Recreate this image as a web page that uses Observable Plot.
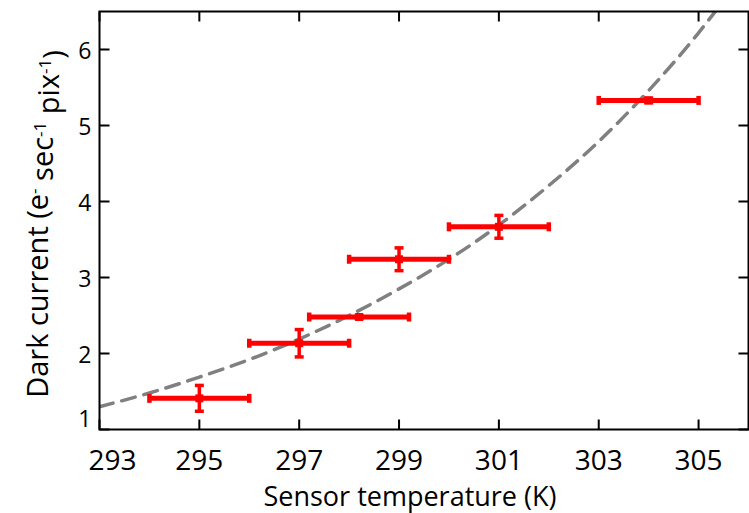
<!DOCTYPE html>
<html>
<head>
<meta charset="utf-8">
<script src="https://cdn.jsdelivr.net/npm/d3@7"></script>
<script src="https://cdn.jsdelivr.net/npm/@observablehq/plot@0.6"></script>
<style>
  html, body { margin: 0; padding: 0; background: #fff; }
  svg { display: block; }
</style>
</head>
<body>
<div id="chart"></div>
<script>
// ---- data ----
const xTicks = [293, 295, 297, 299, 301, 303, 305];
const yTicks = [1, 2, 3, 4, 5, 6];

const temperature = [295, 297, 298.2, 299, 301, 304];
const darkCurrent = [1.41, 2.135, 2.48, 3.24, 3.667, 5.33];
const temperatureErr = [1, 1, 1, 1, 1, 1];
const currentErr = [0.17, 0.18, 0.02, 0.15, 0.15, 0.03];

// dashed fit curve
const fitTemperature = [293, 294, 295, 296, 297, 298, 299, 300, 301, 302, 303, 304, 305, 306];
const fitCurrent = [1.30, 1.48, 1.69, 1.92, 2.19, 2.50, 2.85, 3.24, 3.69, 4.21, 4.79, 5.46, 6.22, 7.08];

// ---- tables ----
const points = temperature.map((t, i) => ({
  t, dc: darkCurrent[i],
  tlo: t - temperatureErr[i], thi: t + temperatureErr[i],
  lo: darkCurrent[i] - currentErr[i], hi: darkCurrent[i] + currentErr[i]
}));
const fit = fitTemperature.map((t, i) => ({t, dc: fitCurrent[i]}));

// ---- custom symbols ----
const rectSymbol = (w, h) => ({
  draw(ctx) { ctx.rect(-w / 2, -h / 2, w, h); }
});
const tickSymbol = (dx, dy) => ({
  draw(ctx) { ctx.moveTo(0, 0); ctx.lineTo(dx, dy); }
});
const L = 10;
const red = "#ff0000";
const font = "'Open Sans', sans-serif";
const fmt = d => String(d);

const svg = Plot.plot({
  width: 749,
  height: 513,
  marginLeft: 99,
  marginRight: 1,
  marginTop: 11,
  marginBottom: 84,
  style: {fontFamily: font, background: "#fff"},
  x: {domain: [293, 306], label: null},
  y: {domain: [1, 6.5], label: null},
  marks: [
    Plot.line(fit, {x: "t", y: "dc", curve: "natural", stroke: "#808080", strokeWidth: 3.5, strokeDasharray: "14,9", clip: true}),
    // horizontal error bars
    Plot.link(points, {x1: "tlo", x2: "thi", y1: "dc", y2: "dc", stroke: red, strokeWidth: 5}),
    Plot.dot(points, {x: "tlo", y: "dc", symbol: rectSymbol(4.5, 9), fill: red, r: 3}),
    Plot.dot(points, {x: "thi", y: "dc", symbol: rectSymbol(4.5, 9), fill: red, r: 3}),
    // vertical error bars
    Plot.link(points, {x1: "t", x2: "t", y1: "lo", y2: "hi", stroke: red, strokeWidth: 3.5}),
    Plot.dot(points, {x: "t", y: "lo", symbol: rectSymbol(9, 3.5), fill: red, r: 3}),
    Plot.dot(points, {x: "t", y: "hi", symbol: rectSymbol(9, 3.5), fill: red, r: 3}),
    Plot.dot(points, {x: "t", y: "dc", symbol: rectSymbol(8, 8), fill: red, r: 3}),
    // inward ticks on all four sides
    Plot.dot(xTicks, {x: d => d, y: 1, symbol: tickSymbol(0, -L), stroke: "black", strokeWidth: 2, fill: "none", r: 3}),
    Plot.dot(xTicks, {x: d => d, y: 6.5, symbol: tickSymbol(0, L), stroke: "black", strokeWidth: 2, fill: "none", r: 3}),
    Plot.dot(yTicks, {x: 293, y: d => d, symbol: tickSymbol(L, 0), stroke: "black", strokeWidth: 2, fill: "none", r: 3}),
    Plot.dot(yTicks, {x: 306, y: d => d, symbol: tickSymbol(-L, 0), stroke: "black", strokeWidth: 2, fill: "none", r: 3}),
    Plot.frame({stroke: "black", strokeWidth: 2}),
    // tick labels (the corner labels are nudged apart, as in the reference)
    Plot.axisX(xTicks.slice(0, 1), {tickSize: 0, tickPadding: 21, fontSize: 28, fill: "black", label: null, dx: 13, tickFormat: fmt}),
    Plot.axisX(xTicks.slice(1), {tickSize: 0, tickPadding: 21, fontSize: 28, fill: "black", label: null, dx: 0, tickFormat: fmt}),
    Plot.axisY(yTicks.slice(0, 1), {tickSize: 0, tickPadding: 8, fontSize: 23, fill: "black", label: null, dy: -10, tickFormat: fmt}),
    Plot.axisY(yTicks.slice(1), {tickSize: 0, tickPadding: 8, fontSize: 23, fill: "black", label: null, dy: 2, tickFormat: fmt})
  ]
});

const sel = d3.select(svg);
sel.append("text")
  .attr("x", 410).attr("y", 506)
  .attr("text-anchor", "middle")
  .attr("font-size", 27)
  .attr("font-family", font)
  .attr("fill", "black")
  .text("Sensor temperature (K)");

const yt = sel.append("text")
  .attr("transform", "translate(48,224) rotate(-90)")
  .attr("text-anchor", "middle")
  .attr("font-size", 29)
  .attr("font-family", font)
  .attr("fill", "black");
yt.append("tspan").text("Dark current (e");
yt.append("tspan").attr("dy", "-0.45em").attr("font-size", 17).text("-");
yt.append("tspan").attr("dy", "0.45em").text(" sec");
yt.append("tspan").attr("dy", "-0.45em").attr("font-size", 17).text("-1");
yt.append("tspan").attr("dy", "0.45em").text(" pix");
yt.append("tspan").attr("dy", "-0.45em").attr("font-size", 17).text("-1");
yt.append("tspan").attr("dy", "0.45em").text(")");

document.getElementById("chart").appendChild(svg);
</script>
</body>
</html>
